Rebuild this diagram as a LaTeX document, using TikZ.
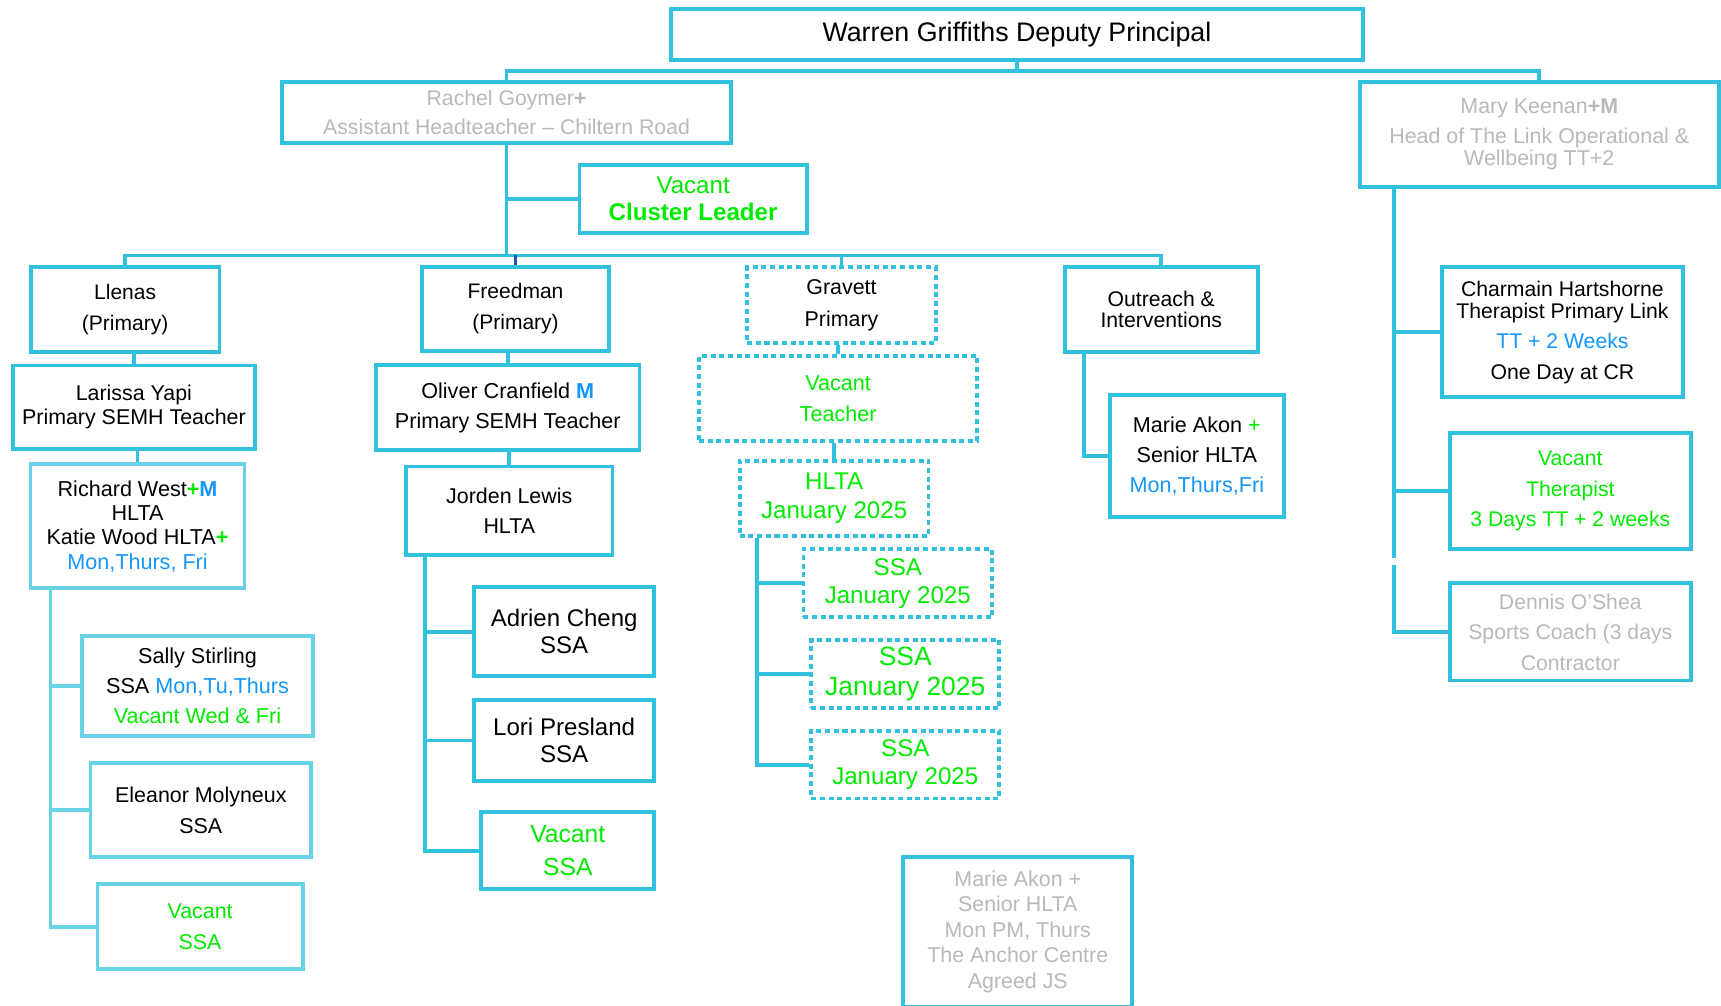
\documentclass[tikz,border=0pt]{standalone}
\usepackage{fontspec}
\setmainfont{Liberation Sans}
\usepackage{xcolor}
\usepackage{tikz}
\definecolor{line-cyan}{RGB}{49,192,221}
\definecolor{light-cyan}{RGB}{104,211,231}
\definecolor{link-dark}{RGB}{30,90,170}
\definecolor{vacant-green}{RGB}{0,235,0}
\definecolor{day-blue}{RGB}{20,150,255}
\definecolor{old-gray}{RGB}{185,185,185}
\newcommand{\fsz}[2]{\fontsize{#1}{#2}\selectfont}
\tikzset{
  staff/.style={rectangle, draw=line-cyan, line width=2pt, inner sep=0pt, align=center, fill=white},
  staffl/.style={staff, draw=light-cyan},
  newpost/.style={staff, dash pattern=on 2.6pt off 1.9pt},
  boxsize/.style 2 args={minimum width=#1*0.02cm, minimum height=#2*0.02cm},
  link/.style={draw=line-cyan, line width=2pt},
  linkl/.style={link, draw=light-cyan}
}

\begin{document}
\begin{tikzpicture}[x=0.02cm, y=-0.02cm]
\useasboundingbox (0,0) rectangle (1568,916);

% top of the tree
\node (warren) [staff, boxsize={631}{47}, font=\fsz{13.9}{16}] at (926.5,31.5) {Warren Griffiths Deputy Principal};
\node (rachel) [staff, boxsize={409}{56}, font=\fsz{11}{15}, text=old-gray] at (461.5,102.5) {Rachel Goymer\textbf{+}\\Assistant Headteacher -- Chiltern Road};
\node (cluster) [staff, boxsize={207}{62}, font=\fsz{12.5}{14.2}, text=vacant-green] at (631.5,181) {Vacant\\\textbf{Cluster Leader}};
\node (mary) [staff, boxsize={327}{96}, font=\fsz{11.1}{11.6}, text=old-gray] at (1402.4,122.5) {Mary Keenan\textbf{+M}\\[3.9pt]Head of The Link Operational \&\\Wellbeing TT+2};

% Llenas
\node (llenas) [staff, boxsize={172}{77}, font=\fsz{10.9}{15.9}] at (114,282) {Llenas\\(Primary)};
\node (larissa) [staff, boxsize={221}{76}, font=\fsz{11.1}{12.6}] at (122,371) {Larissa Yapi\\Primary SEMH Teacher};
\node (richard) [staffl, boxsize={195}{113}, font=\fsz{11.2}{12.6}] at (125.3,479.4) {Richard West\textcolor{vacant-green}{\textbf{+}}\textcolor{day-blue}{\textbf{M}}\\HLTA\\Katie Wood HLTA\textcolor{vacant-green}{\textbf{+}}\\\textcolor{day-blue}{Mon,Thurs, Fri}};
\node (sally) [staffl, boxsize={210}{91}, font=\fsz{11.2}{15.6}] at (180,625) {Sally Stirling\\SSA \textcolor{day-blue}{Mon,Tu,Thurs}\\\textcolor{vacant-green}{Vacant Wed \& Fri}};
\node (eleanor) [staffl, boxsize={201}{86}, font=\fsz{11.1}{16}] at (183,738) {Eleanor Molyneux\\SSA};
\node (vacantL) [staffl, boxsize={187}{77.6}, font=\fsz{11.1}{16.1}, text=vacant-green] at (182.3,844.2) {Vacant\\SSA};

% Freedman
\node (freedman) [staff, boxsize={171}{76.5}, font=\fsz{10.9}{15.9}] at (469.7,281.3) {Freedman\\(Primary)};
\node (oliver) [staff, boxsize={240}{77.5}, font=\fsz{11.2}{15.5}] at (462.6,371.3) {Oliver Cranfield \textcolor{day-blue}{\textbf{M}}\\Primary SEMH Teacher};
\node (jorden) [staff, boxsize={188}{80.7}, font=\fsz{11.1}{15.6}] at (464,465.4) {Jorden Lewis\\HLTA};
\node (adrien) [staff, boxsize={164}{81}, font=\fsz{12.45}{14.2}] at (514,575.5) {Adrien Cheng\\SSA};
\node (lori) [staff, boxsize={164}{74}, font=\fsz{12.5}{14.2}] at (514,674.7) {Lori Presland\\SSA};
\node (vacantF) [staff, boxsize={157.5}{70}, font=\fsz{12.8}{17.3}, text=vacant-green] at (517.3,775) {Vacant\\SSA};

% Gravett
\node (gravett) [newpost, boxsize={172}{68.7}, font=\fsz{11.1}{16.4}] at (766.7,277.9) {Gravett\\Primary};
\node (teacher) [newpost, boxsize={253.6}{77.2}, font=\fsz{11.2}{16.1}, text=vacant-green] at (763.6,362.9) {Vacant\\Teacher};
\node (hlta) [newpost, boxsize={172}{68.6}, font=\fsz{12.5}{14.7}, text=vacant-green] at (760,454) {HLTA\\January 2025};
\node (ssa1) [newpost, boxsize={172}{62}, font=\fsz{12.5}{14.8}, text=vacant-green] at (818,531.5) {SSA\\January 2025};
\node (ssa2) [newpost, boxsize={171.5}{62.4}, font=\fsz{13.7}{15.9}, text=vacant-green] at (824.8,614.2) {SSA\\January 2025};
\node (ssa3) [newpost, boxsize={171.5}{61.7}, font=\fsz{12.5}{14.6}, text=vacant-green] at (824.8,696.6) {SSA\\January 2025};
\node (marieB) [staff, boxsize={208.5}{137}, font=\fsz{11.1}{13.2}, text=old-gray] at (927.3,849) {Marie Akon +\\Senior HLTA\\Mon PM, Thurs\\The Anchor Centre\\Agreed JS};

% Outreach
\node (outreach) [staff, boxsize={176}{78}, font=\fsz{11}{11.2}] at (1058,282) {Outreach \&\\Interventions};
\node (marieO) [staff, boxsize={159}{110.7}, font=\fsz{11.2}{15.6}] at (1090.5,415.4) {Marie Akon \textcolor{vacant-green}{+}\\Senior HLTA\\\textcolor{day-blue}{Mon,Thurs,Fri}};

% The Link
\node (charmain) [staff, boxsize={220}{118.5}, font=\fsz{11}{11.4}] at (1423.5,302.8) {Charmain Hartshorne\\Therapist Primary Link\\[4.5pt]\textcolor{day-blue}{TT + 2 Weeks}\\[4.5pt]One Day at CR};
\node (vacantT) [staff, boxsize={219.4}{106.3}, font=\fsz{11}{15.8}, text=vacant-green] at (1430.7,447.4) {Vacant\\Therapist\\3 Days TT + 2 weeks};
\node (dennis) [staff, boxsize={219.4}{88.5}, font=\fsz{11}{15.8}, text=old-gray] at (1430.7,575.8) {Dennis O’Shea\\Sports Coach (3 days\\Contractor};

% connectors
\draw[link] (warren.south) -- ++(0,8) coordinate (topbar);
\draw[link] (rachel.north) |- (topbar) -| (mary.north);
\draw[link] (rachel.south) -- ++(0,100.5) coordinate (midbar);
\draw[link] (rachel.south) |- (cluster.west);
\draw[link] (llenas.north) |- (midbar) -| (outreach.north);
\draw[link] (gravett.north) -- (gravett.north |- midbar);
\draw[link, draw=link-dark] (freedman.north) -- (freedman.north |- midbar);

\draw[link] (larissa.north) -- (larissa.north |- llenas.south);
\draw[link] (richard.north) -- (richard.north |- larissa.south);
\coordinate (lline) at ([xshift=0.4cm]richard.south west);
\draw[linkl] (lline) |- (sally.west);
\draw[linkl] (lline) |- (eleanor.west);
\draw[linkl] (lline) |- (vacantL.west);

\draw[link] (oliver.north) -- (oliver.north |- freedman.south);
\draw[link] (jorden.north) -- (jorden.north |- oliver.south);
\coordinate (fline) at ([xshift=0.38cm]jorden.south west);
\draw[link] (fline) |- (adrien.west);
\draw[link] (fline) |- (lori.west);
\draw[link] (fline) |- (vacantF.west);

\draw[link] (teacher.north) -- (teacher.north |- gravett.south);
\draw[link] (hlta.north) -- (hlta.north |- teacher.south);
\coordinate (gline) at ([xshift=0.35cm]hlta.south west);
\draw[link] (gline) |- (ssa1.west);
\draw[link] (gline) |- (ssa2.west);
\draw[link] (gline) |- (ssa3.west);

\draw[link] ([xshift=0.38cm]outreach.south west) |- (marieO.west);

\coordinate (mline) at ([xshift=0.66cm]mary.south west);
\coordinate (mgap) at (mline |- vacantT.south);
\draw[link] (mline) |- (charmain.west);
\draw[link] (mline) |- (vacantT.west);
\draw[link] (mline) -- ([yshift=-0.13cm]mgap);
\draw[link] ([yshift=-0.25cm]mgap) |- (dennis.west);
\end{tikzpicture}
\end{document}
